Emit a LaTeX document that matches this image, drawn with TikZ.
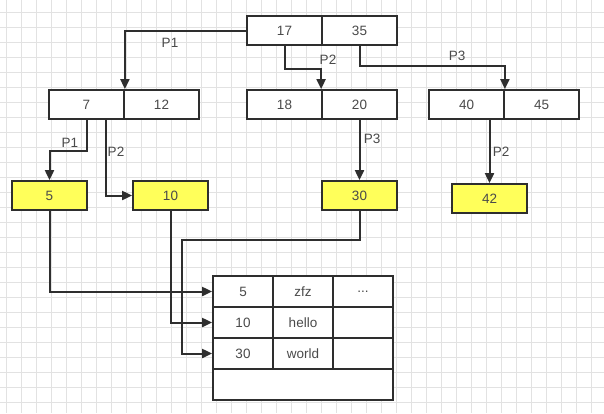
\documentclass[tikz,border=0pt]{standalone}
\usepackage{fontspec}
\setmainfont{Liberation Sans}
\usetikzlibrary{arrows.meta,calc}
\definecolor{ln}{HTML}{2E2E2E}
\definecolor{tx}{HTML}{4A4A4A}
\definecolor{yel}{HTML}{FFFF5A}
\definecolor{grd}{HTML}{E2E2E2}
\tikzset{
  cell/.style={draw=ln,line width=1.8pt,fill=white,minimum width=75pt,minimum height=29pt,inner sep=0pt,text=tx,font=\fontsize{13.5}{14}\selectfont},
  leaf/.style={cell,fill=yel},
  tcell/.style={draw=ln,line width=1.8pt,fill=white,minimum width=60pt,minimum height=31pt,inner sep=0pt,text=tx,font=\fontsize{13.5}{14}\selectfont},
  arr/.style={draw=ln,line width=2pt,-{Triangle[length=10pt,width=9pt]}},
  lab/.style={text=tx,font=\fontsize{13.5}{14}\selectfont,inner sep=0pt}
}
\begin{document}
\begin{tikzpicture}[x=1pt,y=-1pt]
\useasboundingbox (0,0) rectangle (604,413);
\fill[white] (0,0) rectangle (604,413);
\foreach \i in {0,...,39} {\draw[grd,line width=0.7pt] (6.7+15*\i,0) -- (6.7+15*\i,413);}
\foreach \j in {0,...,27} {\draw[grd,line width=0.7pt] (0,12.7+15*\j) -- (604,12.7+15*\j);}
% B-tree nodes
\node[cell] (r17) at (284.5,30.5) {17};
\node[cell] (r35) at (359.5,30.5) {35};
\node[cell] (a7) at (86.5,104.5) {7};
\node[cell] (a12) at (161.5,104.5) {12};
\node[cell] (b18) at (284.5,104.5) {18};
\node[cell] (b20) at (359.5,104.5) {20};
\node[cell] (c40) at (466.5,104.5) {40};
\node[cell] (c45) at (541.5,104.5) {45};
\node[leaf] (l5) at (49.5,195.5) {5};
\node[leaf] (l10) at (170.5,195.5) {10};
\node[leaf] (l30) at (359.5,195.5) {30};
\node[leaf] (l42) at (489.5,198.5) {42};
% table
\node[tcell] (t11) at (243,291.5) {5};
\node[tcell] (t12) at (303,291.5) {zfz};
\node[tcell] (t13) at (363,291.5) {...};
\node[tcell] (t21) at (243,322.5) {10};
\node[tcell] (t22) at (303,322.5) {hello};
\node[tcell] (t23) at (363,322.5) {};
\node[tcell] (t31) at (243,353.5) {30};
\node[tcell] (t32) at (303,353.5) {world};
\node[tcell] (t33) at (363,353.5) {};
\node[tcell,minimum width=180pt] (t41) at (303,384.5) {};
% connectors
\draw[arr] (r17.west) -| (a7.north east);
\node[lab] (lp1) at (170,43) {P1};
\draw[arr] (r17.south) -- ++(0,23) -| (b20.north west);
\node[lab] (lp2) at (328,60) {P2};
\draw[arr] (r35.south) -- ++(0,20) -| (c40.north east);
\node[lab] (lp3) at (457,56) {P3};
\draw[arr] (a7.south) -- ++(0,31) -| (l5.north);
\node[lab] (lp4) at (70,143) {P1};
\draw[arr] ([xshift=-19pt]a7.south east) |- (l10.west);
\node[lab] (lp5) at (116,152) {P2};
\draw[arr] (b20.south) -- (l30.north);
\node[lab] (lp6) at (372,139) {P3};
\draw[arr] (c40.south east -| l42.north) -- (l42.north);
\node[lab] (lp7) at (501,152) {P2};
\draw[arr] (l5.south) |- (t11.west);
\draw[arr] (l10.south) |- (t21.west);
\coordinate (k) at ([xshift=-30pt]t31.west);
\draw[arr] (l30.south) -- ++(0,29) -| (k) -- (t31.west);
\end{tikzpicture}
\end{document}
